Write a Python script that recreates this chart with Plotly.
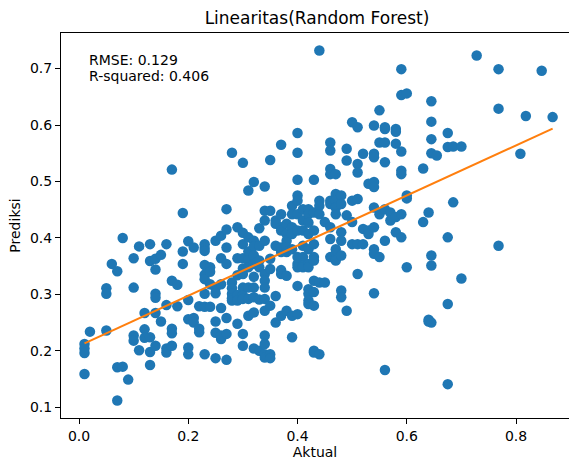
import numpy as np
import plotly.graph_objects as go

# Actual vs. predicted values (Random Forest), grouped by actual value
aktual = (
    [0.01] * 4 + [0.02] + [0.05] * 3 + [0.06] + [0.07] * 3 + [0.08] * 2 + [0.09]
    + [0.10] * 4 + [0.11] * 2 + [0.12] * 3 + [0.13] * 5 + [0.14] * 6 + [0.15] * 2
    + [0.16] * 4 + [0.17] * 5 + [0.18] * 2 + [0.19] * 3 + [0.20] * 5 + [0.21] * 3
    + [0.22] * 3 + [0.23] * 9 + [0.24] * 4 + [0.25] * 6 + [0.26] * 6 + [0.27] * 7
    + [0.28] * 6 + [0.29] * 6 + [0.30] * 11 + [0.31] * 8 + [0.32] * 10 + [0.33] * 6
    + [0.34] * 13 + [0.35] * 7 + [0.36] * 5 + [0.37] * 9 + [0.38] * 7 + [0.39] * 7
    + [0.40] * 12 + [0.41] * 7 + [0.42] * 11 + [0.43] * 11 + [0.44] * 6 + [0.45] * 2
    + [0.46] * 9 + [0.47] * 9 + [0.48] * 7 + [0.49] * 4 + [0.50] * 4 + [0.51] * 6
    + [0.52] * 3 + [0.53] * 3 + [0.54] * 10 + [0.55] * 4 + [0.56] * 7 + [0.57] * 2
    + [0.58] * 5 + [0.59] * 7 + [0.60] * 4 + [0.63] * 2 + [0.64] * 3 + [0.645] * 7
    + [0.655] + [0.675] * 5 + [0.685] * 2 + [0.70] * 2 + [0.728] + [0.768] * 3
    + [0.808] + [0.818] + [0.847] + [0.867]
)

prediksi = [
    0.212, 0.204, 0.196, 0.159,
    0.234,
    0.236, 0.311, 0.301,
    0.354,
    0.341, 0.171, 0.112,
    0.400, 0.172,
    0.149,
    0.364, 0.312, 0.227, 0.218,
    0.385, 0.201,
    0.267, 0.238, 0.223,
    0.389, 0.359, 0.224, 0.198, 0.175,
    0.363, 0.344, 0.301, 0.294, 0.267, 0.209,
    0.370, 0.252,
    0.389, 0.281, 0.204, 0.197,
    0.324, 0.239, 0.231, 0.209, 0.521,
    0.317, 0.279,
    0.444, 0.376, 0.354,
    0.394, 0.290, 0.256, 0.206, 0.194,
    0.383, 0.258, 0.250,
    0.279, 0.239, 0.233,
    0.389, 0.382, 0.377, 0.352, 0.335, 0.327, 0.301, 0.278, 0.194,
    0.348, 0.340, 0.318, 0.278,
    0.395, 0.311, 0.302, 0.252, 0.232, 0.187,
    0.404, 0.364, 0.318, 0.276, 0.227, 0.221,
    0.451, 0.415, 0.383, 0.354, 0.258, 0.230, 0.184,
    0.551, 0.321, 0.311, 0.301, 0.293, 0.289,
    0.419, 0.364, 0.334, 0.299, 0.289, 0.248,
    0.533, 0.409, 0.389, 0.364, 0.346, 0.336, 0.312, 0.298, 0.292, 0.230, 0.209,
    0.484, 0.401, 0.376, 0.360, 0.348, 0.312, 0.292, 0.262,
    0.499, 0.395, 0.385, 0.369, 0.354, 0.331, 0.312, 0.295, 0.268, 0.204,
    0.417, 0.386, 0.360, 0.348, 0.291, 0.200,
    0.491, 0.448, 0.431, 0.395, 0.336, 0.324, 0.312, 0.292, 0.271, 0.227, 0.212, 0.194, 0.188,
    0.538, 0.448, 0.363, 0.345, 0.280, 0.194, 0.187,
    0.431, 0.425, 0.386, 0.297, 0.250,
    0.565, 0.442, 0.419, 0.413, 0.383, 0.375, 0.343, 0.336, 0.262,
    0.425, 0.407, 0.395, 0.383, 0.375, 0.333, 0.271,
    0.457, 0.442, 0.419, 0.407, 0.380, 0.224, 0.262,
    0.586, 0.551, 0.503, 0.475, 0.466, 0.442, 0.413, 0.366, 0.354, 0.348, 0.315, 0.265,
    0.451, 0.431, 0.413, 0.386, 0.366, 0.351, 0.348,
    0.451, 0.442, 0.427, 0.407, 0.380, 0.354, 0.348, 0.309, 0.301, 0.289, 0.283,
    0.503, 0.445, 0.413, 0.389, 0.366, 0.360, 0.324, 0.304, 0.280, 0.200, 0.197,
    0.732, 0.466, 0.457, 0.442, 0.321, 0.194,
    0.428, 0.321,
    0.569, 0.555, 0.522, 0.513, 0.466, 0.460, 0.419, 0.398, 0.366,
    0.513, 0.478, 0.466, 0.454, 0.442, 0.380, 0.372, 0.363, 0.360,
    0.475, 0.460, 0.410, 0.395, 0.369, 0.307, 0.295,
    0.558, 0.537, 0.440, 0.271,
    0.605, 0.466, 0.428, 0.389,
    0.596, 0.531, 0.516, 0.469, 0.389, 0.336,
    0.549, 0.416, 0.389,
    0.496, 0.413, 0.407,
    0.599, 0.549, 0.543, 0.499, 0.490, 0.454, 0.419, 0.380, 0.372, 0.302,
    0.626, 0.569, 0.442, 0.366,
    0.596, 0.593, 0.569, 0.534, 0.451, 0.395, 0.166,
    0.445, 0.431,
    0.593, 0.588, 0.567, 0.437, 0.410,
    0.699, 0.653, 0.553, 0.519, 0.513, 0.442, 0.401,
    0.656, 0.475, 0.470, 0.348,
    0.523, 0.428,
    0.445, 0.255, 0.252,
    0.642, 0.606, 0.575, 0.550, 0.369, 0.351, 0.250,
    0.546,
    0.586, 0.561, 0.401, 0.283, 0.141,
    0.562, 0.463,
    0.562, 0.328,
    0.723,
    0.699, 0.629, 0.386,
    0.549,
    0.616,
    0.696,
    0.614,
]

x_ticks = [0.0, 0.2, 0.4, 0.6, 0.8]
y_ticks = [0.1, 0.2, 0.3, 0.4, 0.5, 0.6, 0.7]

stat_lines = ["RMSE: 0.129", "R-squared: 0.406"]

x = np.array(aktual)
y = np.array(prediksi)

# Least-squares trend line across the range of actual values
slope, intercept = np.polyfit(x, y, 1)
x_line = np.array([x.min(), x.max()])
y_line = slope * x_line + intercept

FONT = "DejaVu Sans"
W, H = 569, 461
M_L, M_R, M_T, M_B = 61, 0, 33, 43

fig = go.Figure()
fig.add_trace(go.Scatter(
    x=x, y=y, mode="markers",
    marker=dict(color="#1f77b4", size=10.5, line=dict(width=0)),
    showlegend=False, hoverinfo="skip",
))
fig.add_trace(go.Scatter(
    x=x_line, y=y_line, mode="lines",
    line=dict(color="#ff7f0e", width=2.1),
    showlegend=False, hoverinfo="skip",
))

# Statistics text box in the upper-left corner of the axes
plot_w = W - M_L - M_R
plot_h = H - M_T - M_B
for i, line in enumerate(stat_lines):
    cy = 60 + i * 16
    fig.add_annotation(
        text=line, xref="paper", yref="paper",
        x=(87 - M_L) / plot_w, y=1 - (cy - M_T) / plot_h,
        xanchor="left", yanchor="middle", align="left", showarrow=False,
        font=dict(family=FONT, size=14, color="#000000"),
    )

axis_common = dict(
    showgrid=False, zeroline=False,
    showline=True, linecolor="#000000", linewidth=1.1,
    ticks="outside", ticklen=5, tickwidth=1.1, tickcolor="#000000",
    tickfont=dict(family=FONT, size=14, color="#000000"),
)

fig.update_layout(
    width=W, height=H, autosize=False,
    margin=dict(l=M_L, r=M_R, t=M_T, b=M_B),
    paper_bgcolor="#ffffff", plot_bgcolor="#ffffff",
    title=dict(
        text="Linearitas(Random Forest)",
        xref="container", yref="container",
        x=317 / W, y=1 - 18.5 / H, xanchor="center", yanchor="middle",
        font=dict(family=FONT, size=17, color="#000000"),
    ),
    xaxis=dict(
        range=[-0.033, 0.897], tickvals=x_ticks,
        ticktext=[f"{v:.1f}" for v in x_ticks], mirror=True,
        title=dict(text="Aktual", standoff=3,
                   font=dict(family=FONT, size=14, color="#000000")),
        **axis_common,
    ),
    yaxis=dict(
        range=[0.081, 0.763], tickvals=y_ticks,
        ticktext=[f"{v:.1f}" for v in y_ticks],
        title=dict(text="Prediksi", standoff=5,
                   font=dict(family=FONT, size=14, color="#000000")),
        **axis_common,
    ),
)

fig.write_html("out.html")
